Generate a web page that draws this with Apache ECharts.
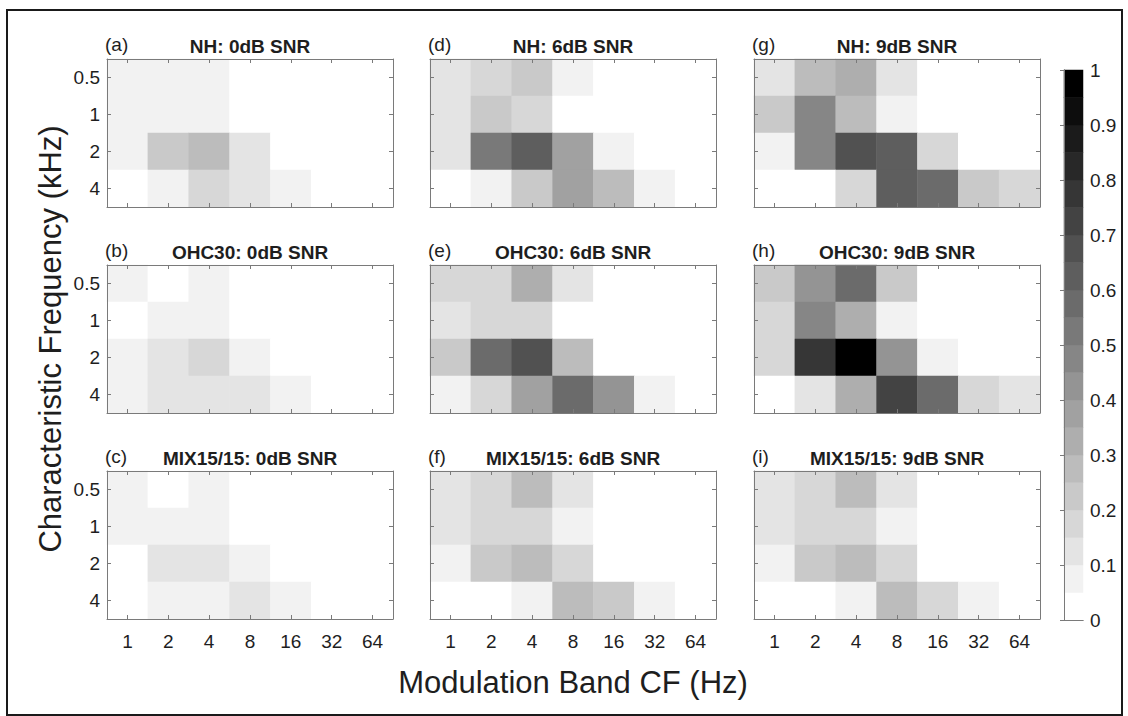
<!DOCTYPE html>
<html><head><meta charset="utf-8">
<script src="https://cdn.jsdelivr.net/npm/echarts@6/dist/echarts.min.js"></script>
<style>html,body{margin:0;padding:0;background:#fff}#c{width:1128px;height:716px}</style>
</head><body><div id="c"></div>
<script>
// ---- categories / labels ----
const modBands = ['1', '2', '4', '8', '16', '32', '64'];        // x: Modulation Band CF (Hz)
const charFreqs = ['0.5', '1', '2', '4'];                        // y: Characteristic Frequency (kHz)
const snrTitles = ['0dB SNR', '6dB SNR', '9dB SNR'];
const groups = ['NH', 'OHC30', 'MIX15/15'];
const letters = ['(a)', '(b)', '(c)', '(d)', '(e)', '(f)', '(g)', '(h)', '(i)'];

// ---- values (rows: 0.5,1,2,4 kHz ; cols: 1..64 Hz) ----
const nh0 = [
  [0.07, 0.07, 0.07, 0, 0, 0, 0],
  [0.07, 0.07, 0.07, 0, 0, 0, 0],
  [0.07, 0.22, 0.27, 0.12, 0, 0, 0],
  [0, 0.07, 0.17, 0.12, 0.07, 0, 0]
];
const nh6 = [
  [0.12, 0.17, 0.22, 0.07, 0, 0, 0],
  [0.12, 0.22, 0.17, 0, 0, 0, 0],
  [0.12, 0.52, 0.62, 0.37, 0.07, 0, 0],
  [0, 0.07, 0.22, 0.37, 0.27, 0.07, 0]
];
const nh9 = [
  [0.12, 0.27, 0.32, 0.12, 0, 0, 0],
  [0.24, 0.48, 0.27, 0.07, 0, 0, 0],
  [0.07, 0.48, 0.67, 0.62, 0.17, 0, 0],
  [0, 0, 0.17, 0.62, 0.57, 0.22, 0.17]
];
const ohc0 = [
  [0.07, 0, 0.07, 0, 0, 0, 0],
  [0, 0.07, 0.07, 0, 0, 0, 0],
  [0.07, 0.12, 0.17, 0.07, 0, 0, 0],
  [0.07, 0.12, 0.12, 0.12, 0.07, 0, 0]
];
const ohc6 = [
  [0.17, 0.17, 0.32, 0.12, 0, 0, 0],
  [0.12, 0.17, 0.17, 0, 0, 0, 0],
  [0.22, 0.57, 0.67, 0.27, 0, 0, 0],
  [0.07, 0.17, 0.37, 0.57, 0.42, 0.07, 0]
];
const ohc9 = [
  [0.22, 0.42, 0.57, 0.22, 0, 0, 0],
  [0.17, 0.47, 0.32, 0.07, 0, 0, 0],
  [0.17, 0.77, 0.97, 0.42, 0.07, 0, 0],
  [0, 0.12, 0.32, 0.72, 0.57, 0.17, 0.12]
];
const mix0 = [
  [0.07, 0, 0.07, 0, 0, 0, 0],
  [0.07, 0.07, 0.07, 0, 0, 0, 0],
  [0, 0.12, 0.12, 0.07, 0, 0, 0],
  [0, 0.07, 0.07, 0.12, 0.07, 0, 0]
];
const mix6 = [
  [0.12, 0.17, 0.27, 0.12, 0, 0, 0],
  [0.12, 0.17, 0.17, 0.07, 0, 0, 0],
  [0.07, 0.22, 0.27, 0.17, 0, 0, 0],
  [0, 0, 0.07, 0.27, 0.22, 0.07, 0]
];
const mix9 = [
  [0.12, 0.17, 0.27, 0.12, 0, 0, 0],
  [0.12, 0.17, 0.17, 0.07, 0, 0, 0],
  [0.07, 0.22, 0.27, 0.17, 0, 0, 0],
  [0, 0, 0.07, 0.27, 0.17, 0.07, 0]
];
const colorbarTicks = [0, 0.1, 0.2, 0.3, 0.4, 0.5, 0.6, 0.7, 0.8, 0.9, 1];
const nLevels = 20;

// ---- layout ----
const colLeft = [107, 430, 754];
const rowTop = [59, 265, 471];
const pW = 286, pH = 148;
const axisColor = '#7a7a7a';
const textColor = '#1e1e1e';
const FONT = '"Liberation Sans", Arial, Helvetica, sans-serif';

const matrices = [[nh0, nh6, nh9], [ohc0, ohc6, ohc9], [mix0, mix6, mix9]]; // [row][col]

const grays = [];
for (let k = 0; k < nLevels; k++) {
  const v = Math.round(255 * (1 - k / (nLevels - 1)));
  grays.push('rgb(' + v + ',' + v + ',' + v + ')');
}
const pieces = grays.map((c, k) => k === nLevels - 1
  ? { gte: k / nLevels, lte: 1, color: c }
  : { gte: k / nLevels, lt: (k + 1) / nLevels, color: c });

const grid = [], xAxis = [], yAxis = [], series = [], graphic = [];
for (let c = 0; c < 3; c++) {
  for (let r = 0; r < 3; r++) {
    const i = grid.length;
    grid.push({ left: colLeft[c], top: rowTop[r], width: pW, height: pH, show: false });
    const tick = { show: true, inside: true, alignWithLabel: true, interval: 0, length: 4, lineStyle: { color: axisColor, width: 1 } };
    const line = { show: true, lineStyle: { color: axisColor, width: 1 } };
    xAxis.push({ gridIndex: i, type: 'category', data: modBands, position: 'bottom', z: 5,
      axisLine: line, axisTick: tick,
      axisLabel: { show: r === 2, interval: 0, fontSize: 19, color: textColor, margin: 13, fontFamily: FONT },
      splitLine: { show: false } });
    xAxis.push({ gridIndex: i, type: 'category', data: modBands, position: 'top', z: 5,
      axisLine: line, axisTick: tick, axisLabel: { show: false, interval: 0 }, splitLine: { show: false } });
    yAxis.push({ gridIndex: i, type: 'category', data: charFreqs, inverse: true, position: 'left', z: 5,
      axisLine: line, axisTick: tick,
      axisLabel: { show: c === 0, interval: 0, fontSize: 19, color: textColor, margin: 7, fontFamily: FONT },
      splitLine: { show: false } });
    yAxis.push({ gridIndex: i, type: 'category', data: charFreqs, inverse: true, position: 'right', z: 5,
      axisLine: line, axisTick: tick, axisLabel: { show: false, interval: 0 }, splitLine: { show: false } });
    const m = matrices[r][c];
    const data = [];
    for (let yi = 0; yi < charFreqs.length; yi++)
      for (let xi = 0; xi < modBands.length; xi++)
        data.push([xi, yi, m[yi][xi]]);
    series.push({ type: 'heatmap', xAxisIndex: 2 * i, yAxisIndex: 2 * i, data: data,
      itemStyle: { borderWidth: 0 }, emphasis: { disabled: true }, animation: false });
    // titles
    graphic.push({ type: 'text', left: colLeft[c] - 2, top: rowTop[r] - 24,
      style: { text: letters[c * 3 + r], font: '19px ' + FONT, fill: textColor } });
    graphic.push({ type: 'text', x: colLeft[c] + pW / 2, y: rowTop[r] - 13,
      style: { text: groups[r] + ': ' + snrTitles[c], font: 'bold 19px ' + FONT, fill: textColor,
        textAlign: 'center', textVerticalAlign: 'middle' } });
  }
}

// ---- colorbar ----
const cbL = 1064, cbT = 70, cbW = 19, cbH = 550;
const cbi = grid.length;
grid.push({ left: cbL, top: cbT, width: cbW, height: cbH, show: false });
const levelIdx = grays.map((g, k) => String(k));
xAxis.push({ gridIndex: cbi, type: 'category', data: [''], show: false });
xAxis.push({ gridIndex: cbi, type: 'category', data: [''], show: false });
yAxis.push({ gridIndex: cbi, type: 'category', data: levelIdx, show: false });
yAxis.push({ gridIndex: cbi, type: 'category', data: levelIdx, show: false });
series.push({ type: 'heatmap', xAxisIndex: 2 * cbi, yAxisIndex: 2 * cbi,
  data: grays.map((g, k) => [0, k, (k + 0.5) / nLevels]),
  itemStyle: { borderWidth: 0 }, emphasis: { disabled: true }, animation: false });

const cbj = grid.length;
grid.push({ left: cbL, top: cbT, width: cbW, height: cbH, show: false });
const cbLine = { show: true, lineStyle: { color: axisColor, width: 1 } };
xAxis.push({ gridIndex: cbj, type: 'value', min: 0, max: 1, position: 'bottom', z: 5, axisLine: cbLine,
  axisTick: { show: false }, axisLabel: { show: false }, splitLine: { show: false } });
xAxis.push({ gridIndex: cbj, type: 'value', min: 0, max: 1, position: 'top', z: 5, axisLine: cbLine,
  axisTick: { show: false }, axisLabel: { show: false }, splitLine: { show: false } });
yAxis.push({ gridIndex: cbj, type: 'value', min: 0, max: 1, interval: 0.1, position: 'right', z: 5,
  axisLine: cbLine,
  axisTick: { show: true, inside: true, length: 4, lineStyle: { color: axisColor } },
  axisLabel: { show: true, fontSize: 19, color: textColor, margin: 7, fontFamily: FONT,
    customValues: colorbarTicks, formatter: v => String(Math.round(v * 10) / 10) },
  splitLine: { show: false } });
yAxis.push({ gridIndex: cbj, type: 'value', min: 0, max: 1, position: 'left', z: 5, axisLine: cbLine,
  axisTick: { show: false }, axisLabel: { show: false }, splitLine: { show: false } });

// ---- axis titles + frame ----
graphic.push({ type: 'text', x: colLeft[1] + pW / 2, y: 682,
  style: { text: 'Modulation Band CF (Hz)', font: '31px ' + FONT, fill: textColor, textAlign: 'center', textVerticalAlign: 'middle' } });
graphic.push({ type: 'text', x: 50, y: rowTop[1] + pH / 2, rotation: Math.PI / 2,
  style: { text: 'Characteristic Frequency (kHz)', font: '31px ' + FONT, fill: textColor, textAlign: 'center', textVerticalAlign: 'middle' } });
graphic.push({ type: 'rect', shape: { x: 7, y: 10, width: 1115, height: 705 },
  style: { fill: 'none', stroke: '#1a1a1a', lineWidth: 2 }, z: -1 });

const chart = echarts.init(document.getElementById('c'), null, { renderer: 'svg', width: 1128, height: 716 });
chart.setOption({
  animation: false,
  backgroundColor: '#ffffff',
  textStyle: { fontFamily: FONT },
  grid: grid, xAxis: xAxis, yAxis: yAxis,
  visualMap: { type: 'piecewise', show: false, dimension: 2, pieces: pieces,
    seriesIndex: series.map((s, k) => k) },
  series: series,
  graphic: graphic
});
</script></body></html>
